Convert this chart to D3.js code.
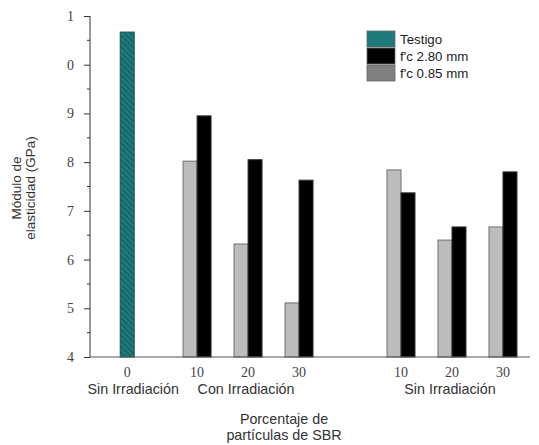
<!DOCTYPE html>
<html>
<head>
<meta charset="utf-8">
<script src="https://cdn.jsdelivr.net/npm/d3@7"></script>
<style>
  body { margin: 0; background: #fff; }
  svg { display: block; }
  .tick-num { font-family: "Liberation Serif", "DejaVu Serif", serif; font-size: 14px; fill: #444; }
  .sans { font-family: "Liberation Sans", Arial, sans-serif; fill: #333; }
</style>
</head>
<body>
<svg id="chart" width="539" height="445"></svg>
<script>
// Values (GPa).
var sections = ['Sin Irradiación', 'Con Irradiación', 'Sin Irradiación'];
var percents = [[0], [10, 20, 30], [10, 20, 30]];
var testigo = [10.67];
var coarse = [[], [8.95, 8.05, 7.63], [7.37, 6.67, 7.80]];   // f'c 2.80 mm
var fine = [[], [8.02, 6.32, 5.11], [7.84, 6.40, 6.67]];     // f'c 0.85 mm
var yTicks = [4, 5, 6, 7, 8, 9, 10, 11];
var yTickLabels = ['4', '5', '6', '7', '8', '9', '0', '1'];
var legendNames = ['Testigo', "f'c 2.80 mm", "f'c 0.85 mm"];
var colors = { testigo: '#1d7a78', coarse: '#000000', fine: '#bcbcbc', fineLegend: '#808080' };

var svg = d3.select('#chart');

// Slot of every category along the x axis: one slot per group, an empty
// slot between the two irradiation blocks, the control bar set apart.
var slotStart = [-1.37, 0, 4];
var x = d3.scaleLinear().domain([-2.1, 6.53]).range([90, 530]);
var y = d3.scaleLinear().domain([4, 11]).range([357, 16]);
var barW = 14;

var defs = svg.append('defs');
var pat = defs.append('pattern')
    .attr('id', 'hatch')
    .attr('patternUnits', 'userSpaceOnUse')
    .attr('width', 4).attr('height', 4)
    .attr('patternTransform', 'rotate(-45)');
pat.append('rect').attr('width', 4).attr('height', 4).attr('fill', colors.testigo);
pat.append('line').attr('x1', 0).attr('y1', 0).attr('x2', 0).attr('y2', 4)
    .attr('stroke', '#0c4d4c').attr('stroke-width', 1.4);

// Flatten groups.
var groups = [];
sections.forEach(function(name, s) {
  percents[s].forEach(function(p, i) {
    groups.push({ section: s, label: p, slot: slotStart[s] + i, i: i });
  });
});

// Control bar.
svg.append('rect')
    .attr('x', x(slotStart[0]) - barW / 2)
    .attr('y', y(testigo[0]))
    .attr('width', barW)
    .attr('height', y(4) - y(testigo[0]))
    .attr('fill', 'url(#hatch)')
    .attr('stroke', '#14524f').attr('stroke-width', 1);

var paired = groups.filter(function(g) { return g.section > 0; });

svg.selectAll('rect.fine')
    .data(paired)
    .enter().append('rect')
    .attr('class', 'fine')
    .attr('x', function(d) { return x(d.slot) - barW; })
    .attr('y', function(d) { return y(fine[d.section][d.i]); })
    .attr('width', barW)
    .attr('height', function(d) { return y(4) - y(fine[d.section][d.i]); })
    .attr('fill', colors.fine)
    .attr('stroke', '#6e6e6e').attr('stroke-width', 1);

svg.selectAll('rect.coarse')
    .data(paired)
    .enter().append('rect')
    .attr('class', 'coarse')
    .attr('x', function(d) { return x(d.slot); })
    .attr('y', function(d) { return y(coarse[d.section][d.i]); })
    .attr('width', barW)
    .attr('height', function(d) { return y(4) - y(coarse[d.section][d.i]); })
    .attr('fill', colors.coarse)
    .attr('stroke', '#333').attr('stroke-width', 1);

// Y axis with half-unit minor ticks, left pointing.
var yAxis = d3.axisLeft(y).tickValues(yTicks).tickSize(6)
    .tickFormat(function(d, i) { return yTickLabels[i]; }).tickPadding(10);
var gy = svg.append('g').attr('transform', 'translate(90,0)').call(yAxis);
gy.select('.domain').attr('stroke', '#333').attr('d', 'M0,' + y(11) + 'V' + y(4));
gy.selectAll('.tick line').attr('stroke', '#333');
gy.selectAll('.tick text').attr('class', 'tick-num').attr('fill', null);
gy.selectAll('line.minor')
    .data(yTicks.slice(0, -1).map(function(t) { return t + 0.5; }))
    .enter().append('line')
    .attr('class', 'minor')
    .attr('x1', -3).attr('x2', 0)
    .attr('y1', function(d) { return y(d); }).attr('y2', function(d) { return y(d); })
    .attr('stroke', '#333');

// X axis baseline.
svg.append('line')
    .attr('x1', x.range()[0]).attr('x2', x.range()[1])
    .attr('y1', y(4)).attr('y2', y(4))
    .attr('stroke', '#555').attr('stroke-width', 1.2);

// Category labels.
svg.selectAll('text.cat')
    .data(groups)
    .enter().append('text')
    .attr('class', 'tick-num')
    .attr('x', function(d) { return x(d.slot); })
    .attr('y', 377)
    .attr('text-anchor', 'middle')
    .text(function(d) { return d.label; });

svg.selectAll('text.sec')
    .data(sections)
    .enter().append('text')
    .attr('class', 'sans')
    .attr('x', function(d, s) { return x(slotStart[s] + (percents[s].length - 1) / 2) + (s === 0 ? 6 : -2); })
    .attr('y', 394)
    .attr('text-anchor', 'middle')
    .style('font-size', '14.3px')
    .text(function(d) { return d; });

// Axis titles.
var xt = svg.append('text').attr('class', 'sans').attr('text-anchor', 'middle')
    .style('font-size', '14.3px');
xt.append('tspan').attr('x', 284).attr('y', 424).text('Porcentaje de');
xt.append('tspan').attr('x', 284).attr('y', 440).text('partículas de SBR');

var yt = svg.append('text').attr('class', 'sans').attr('text-anchor', 'middle')
    .attr('transform', 'translate(0,188) rotate(-90)')
    .style('font-size', '13.5px');
yt.append('tspan').attr('x', 0).attr('y', 21).text('Módulo de');
yt.append('tspan').attr('x', 0).attr('y', 35).text('elasticidad (GPa)');

// Legend.
var legendFill = ['url(#hatch)', colors.coarse, colors.fineLegend];
var lg = svg.append('g').attr('transform', 'translate(367,31)');
var item = lg.selectAll('g').data(legendNames).enter().append('g')
    .attr('transform', function(d, i) { return 'translate(0,' + i * 17 + ')'; });
item.append('rect').attr('width', 28).attr('height', 16)
    .attr('fill', function(d, i) { return i === 0 ? colors.testigo : legendFill[i]; })
    .attr('stroke', '#666').attr('stroke-width', 0.8);
item.append('text').attr('class', 'sans')
    .attr('x', 33).attr('y', 13)
    .style('font-size', '13.3px').style('fill', '#222')
    .text(function(d) { return d; });
</script>
</body>
</html>
